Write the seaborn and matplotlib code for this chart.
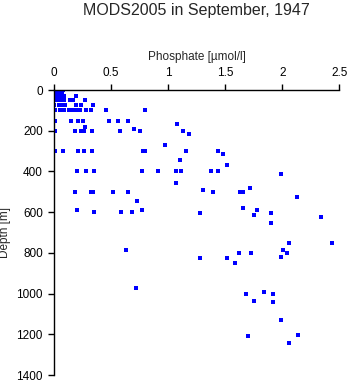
import matplotlib
matplotlib.use("Agg")
import matplotlib.pyplot as plt
import seaborn as sns
import pandas as pd

depth = [0, 0, 0, 0, 0,
         10, 10, 10, 10,
         20, 20, 20,
         30, 30, 30, 30, 30,
         50, 50, 50, 50, 50, 50, 50,
         75, 75, 75, 75, 75, 75, 75,
         100, 100, 100, 100, 100, 100, 100, 100, 100, 100, 100,
         150, 150, 150, 150, 150, 150, 150,
         165, 182, 193,
         200, 200, 200, 200, 200, 200, 200,
         203, 216, 272,
         300, 300, 300, 300, 300, 300, 300, 300, 300,
         312, 344, 370,
         400, 400, 400, 400, 400, 400, 400, 400, 400,
         414, 455, 480, 493, 503,
         500, 500, 500, 500, 500, 500, 500,
         527, 543, 578, 587, 587, 591, 598, 598, 598,
         602, 606, 615, 625, 655, 750, 753, 787, 788,
         802, 802, 802, 822, 827, 827, 851, 970, 994,
         1000, 1000, 1034, 1043, 1130, 1202, 1210, 1241]

phosphate = [0.00, 0.02, 0.04, 0.06, 0.08,
             0.00, 0.03, 0.05, 0.07,
             0.01, 0.04, 0.07,
             0.00, 0.03, 0.06, 0.09, 0.19,
             0.02, 0.05, 0.07, 0.09, 0.14, 0.17, 0.27,
             0.00, 0.04, 0.08, 0.10, 0.19, 0.24, 0.34,
             0.01, 0.05, 0.09, 0.13, 0.16, 0.19, 0.23, 0.28, 0.32, 0.46, 0.80,
             0.01, 0.15, 0.21, 0.25, 0.48, 0.56, 0.65,
             1.08, 0.27, 0.70,
             0.01, 0.18, 0.24, 0.26, 0.33, 0.58, 0.75,
             1.13, 1.18, 0.97,
             0.01, 0.08, 0.21, 0.26, 0.33, 0.78, 0.80, 1.16, 1.44,
             1.48, 1.10, 1.52,
             0.20, 0.28, 0.35, 0.77, 0.91, 1.07, 1.11, 1.38, 1.44,
             1.99, 1.07, 1.72, 1.31, 1.39,
             0.18, 0.32, 0.34, 0.52, 0.65, 1.63, 1.66,
             2.13, 0.73, 1.66, 0.20, 0.77, 1.78, 0.35, 0.59, 0.68,
             1.90, 1.28, 1.75, 2.34, 1.90, 2.06, 2.44, 0.63, 2.01,
             1.62, 1.73, 2.04, 1.99, 1.28, 1.52, 1.59, 0.72, 1.84,
             1.68, 1.92, 1.75, 1.92, 1.99, 2.14, 1.70, 2.06]

xticks = [0, 0.5, 1, 1.5, 2, 2.5]
xticklabels = ["0", "0.5", "1", "1.5", "2", "2.5"]
yticks = [0, 200, 400, 600, 800, 1000, 1200, 1400]

df = pd.DataFrame({"Phosphate": phosphate, "Depth": depth})

sns.set_style("white")
plt.rcParams["font.family"] = ["Liberation Sans", "DejaVu Sans"]

fig = plt.figure(figsize=(3.5, 3.84), dpi=100)
ax = fig.add_axes([0.1543, 0.0234, 0.815, 0.742])

sns.scatterplot(data=df, x="Phosphate", y="Depth", ax=ax, marker="s",
                s=5.5, color="#0000ff", linewidth=0, legend=False)

ax.set_xlim(0, 2.5)
ax.set_ylim(1400, 0)
ax.set_xticks(xticks)
ax.set_xticklabels(xticklabels)
ax.set_yticks(yticks)
ax.xaxis.tick_top()
ax.xaxis.set_label_position("top")
ax.tick_params(axis="both", direction="out", length=4, width=1, colors="black",
               labelsize=8.5, pad=4)
ax.tick_params(axis="x", top=True, bottom=False)
ax.tick_params(axis="y", left=True, right=False)
for side in ["right", "bottom"]:
    ax.spines[side].set_visible(False)
for side in ["left", "top"]:
    ax.spines[side].set_color("black")
    ax.spines[side].set_linewidth(1)

ax.set_xlabel("Phosphate [µmol/l]", fontsize=8.5, labelpad=5)
ax.set_ylabel("Depth [m]", fontsize=8.5, labelpad=4)
fig.text(0.562, 1 - 10 / 384, "MODS2005 in September, 1947", ha="center",
         va="center", fontsize=11.5)

fig.savefig("out.png", dpi=100)
